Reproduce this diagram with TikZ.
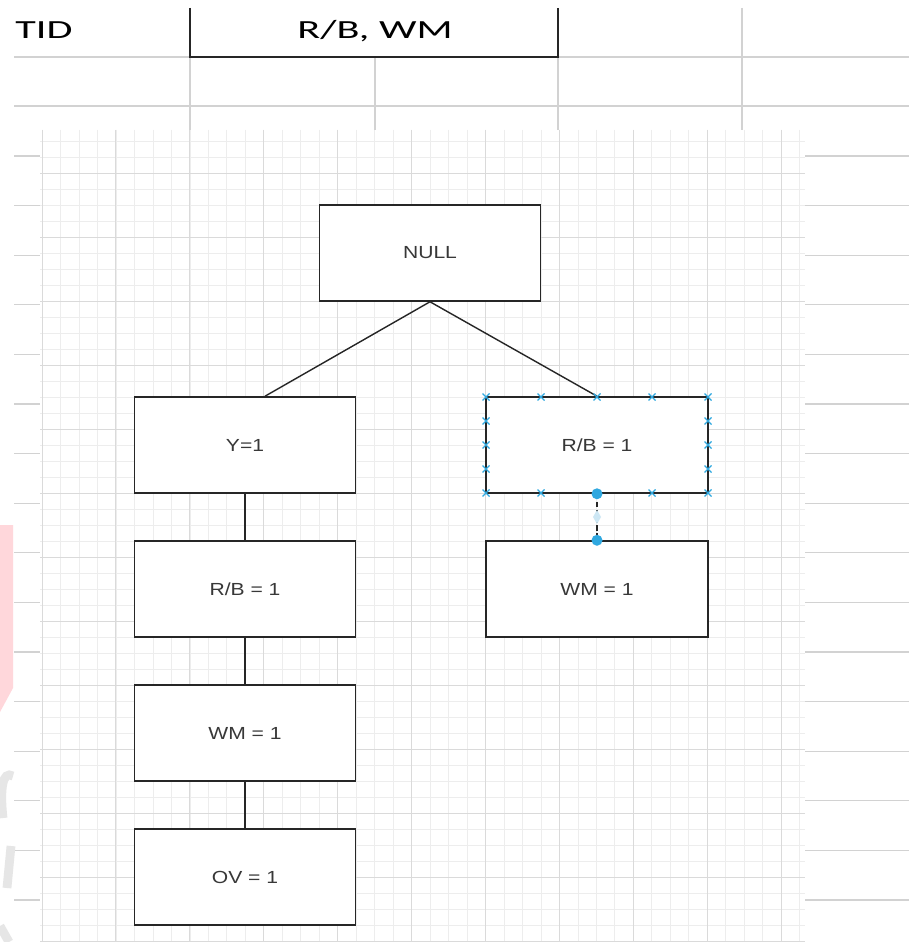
\documentclass[tikz,border=0pt]{standalone}
\usepackage{fontspec}
\usepackage{graphicx}
\usetikzlibrary{positioning}
\newfontfamily\boxfont{Liberation Sans}
\newfontfamily\sheetfont{Carlito}
\definecolor{BoxInk}{HTML}{262626}
\definecolor{LabelInk}{HTML}{383838}
\definecolor{SheetLine}{HTML}{D2D2D2}
\definecolor{GridMajor}{HTML}{DADADA}
\definecolor{GridMinor}{HTML}{EDEDED}
\definecolor{HandleBlue}{HTML}{2FA8E0}
\definecolor{HandleGhost}{HTML}{CDE7F4}
\definecolor{MarkPink}{HTML}{FFD7DB}
\definecolor{MarkGray}{HTML}{E6E6E6}
\newcommand{\FlatText}[2]{\scalebox{1}[#1]{#2}}
\tikzset{
  sheet/.style={x=0.02cm,y=-0.02cm},
  itembox/.style={draw=BoxInk,line width=0.9pt,fill=white,minimum width=4.42cm,
    minimum height=1.92cm,inner sep=0pt,font=\boxfont\fontsize{12}{14}\selectfont,text=LabelInk},
  headtext/.style={inner sep=0pt,font=\sheetfont\fontsize{24}{28}\selectfont,text=black},
  link/.style={draw=BoxInk,line width=0.8pt},
  ghostlink/.style={draw=BoxInk,line width=0.8pt,dash pattern=on 3pt off 1.5pt},
  sheetrule/.style={draw=SheetLine,line width=0.6pt},
  cellrule/.style={draw=BoxInk,line width=0.8pt},
  gridminor/.style={draw=GridMinor,line width=0.3pt},
  gridmajor/.style={draw=GridMajor,line width=0.5pt},
  handle/.style={draw=HandleBlue,line width=0.7pt},
}

\begin{document}
\begin{tikzpicture}[sheet]
  \fill[white] (0,0) rectangle (909,942);
  \useasboundingbox (0,0) rectangle (909,942);

  % spreadsheet behind the canvas
  \draw[sheetrule] (14,57) -- (909,57);
  \draw[sheetrule] (14,106) -- (909,106);
  \foreach \cx/\top in {190/8,375/57,558/8,742/8}
    \draw[sheetrule] (\cx,\top) -- (\cx,130);
  \foreach \j in {0,...,15} {
    \draw[sheetrule] (14,{156+49.6*\j}) -- (40,{156+49.6*\j});
    \draw[sheetrule] (805,{156+49.6*\j}) -- (909,{156+49.6*\j});
  }
  \draw[cellrule] (190,8) -- (190,57) -- (558,57) -- (558,8);
  \node[headtext,anchor=base west] (tid) at (15,39) {\FlatText{0.62}{TID}};
  \node[headtext,anchor=base] (itemset) at (375,39) {\FlatText{0.62}{R/B, WM}};

  % canvas grid
  \fill[white] (40,130) rectangle (805,942);
  \foreach \i in {0,...,41}
    \draw[gridminor] ({42+18.475*\i},130) -- ({42+18.475*\i},942);
  \foreach \j in {0,...,50}
    \draw[gridminor] (40,{141+16*\j}) -- (805,{141+16*\j});
  \foreach \i in {0,...,10}
    \draw[gridmajor] ({42+73.9*\i},130) -- ({42+73.9*\i},942);
  \foreach \j in {0,...,12}
    \draw[gridmajor] (40,{173+64*\j}) -- (805,{173+64*\j});

  % watermark fragments
  \fill[MarkPink] (0,525) -- (13,525) -- (13,688) -- (0,712) -- cycle;
  \draw[MarkGray,line width=5pt] (13,776) .. controls (2,770) and (0,790) .. (3,818);
  \draw[MarkGray,line width=5pt] (11,846) -- (7,888);
  \draw[MarkGray,line width=5pt] (0,926) -- (9,942);

  % tree
  \node[itembox] (null) at (430,253) {\FlatText{0.83}{NULL}};
  \node[itembox] (y) at (245,445) {\FlatText{0.83}{Y=1}};
  \node[itembox,below=0.93cm of y] (rb) {\FlatText{0.83}{R/B = 1}};
  \node[itembox,below=0.93cm of rb] (wm) {\FlatText{0.83}{WM = 1}};
  \node[itembox,below=0.93cm of wm] (ov) {\FlatText{0.83}{OV = 1}};
  \node[itembox,minimum width=4.44cm] (rbright) at (597,445) {\FlatText{0.83}{R/B = 1}};
  \node[itembox,minimum width=4.44cm,below=0.93cm of rbright] (wmright) {\FlatText{0.83}{WM = 1}};

  \draw[link] (null.south) -- ([xshift=0.4cm]y.north);
  \draw[link] (null.south) -- (rbright.north);
  \draw[link] (y) -- (rb);
  \draw[link] (rb) -- (wm);
  \draw[link] (wm) -- (ov);
  \draw[ghostlink] (rbright.south) -- (wmright.north);

  % selection handles
  \foreach \hx/\hy in {486/397,541/397,597/397,652/397,708/397,
                       486/493,541/493,652/493,708/493,
                       486/421,486/445,486/469,708/421,708/445,708/469}
    \draw[handle] (\hx-3.5,\hy-3.5) -- (\hx+3.5,\hy+3.5) (\hx-3.5,\hy+3.5) -- (\hx+3.5,\hy-3.5);
  \fill[HandleGhost] (597,510) -- (601,517) -- (597,524) -- (593,517) -- cycle;
  \fill[HandleBlue] (rbright.south) circle (5.5);
  \fill[HandleBlue] (wmright.north) circle (5.5);
\end{tikzpicture}
\end{document}
